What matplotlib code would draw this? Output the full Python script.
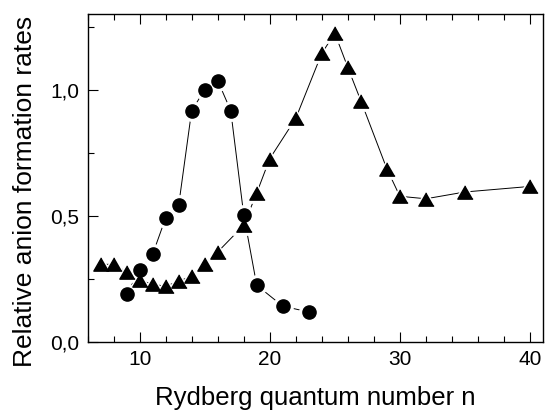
import matplotlib
matplotlib.use("Agg")
import matplotlib.pyplot as plt
from matplotlib.ticker import MultipleLocator, FuncFormatter

plt.rcParams['font.family'] = ['Liberation Sans', 'DejaVu Sans']

# circles
n_circ = [9, 10, 11, 12, 13, 14, 15, 16, 17, 18, 19, 21, 23]
rate_circ = [0.188, 0.284, 0.347, 0.491, 0.541, 0.917, 0.999, 1.036, 0.917, 0.504, 0.224, 0.141, 0.118]

# triangles
n_tri = [7, 8, 9, 10, 11, 12, 13, 14, 15, 16, 18, 19, 20, 22, 24, 25, 26, 27, 29, 30, 32, 35, 40]
rate_tri = [0.307, 0.307, 0.277, 0.244, 0.228, 0.220, 0.240, 0.260, 0.307, 0.356, 0.462, 0.590,
            0.726, 0.886, 1.144, 1.224, 1.088, 0.956, 0.686, 0.577, 0.567, 0.594, 0.616]

tri = [(0, 0.87), (-1, -0.87), (1, -0.87)]

fig = plt.figure(figsize=(5.45, 4.12), dpi=100)
ax = fig.add_axes([0.1607, 0.1706, 0.8356, 0.7954])

# thin connecting lines
ax.plot(n_circ, rate_circ, '-', color='black', lw=0.7, zorder=1)
ax.plot(n_tri, rate_tri, '-', color='black', lw=0.7, zorder=1)
# white halos give the gap between line and symbol
ax.plot(n_circ, rate_circ, 'o', color='white', ms=14, zorder=2)
ax.plot(n_tri, rate_tri, ls='none', marker=tri, color='white', ms=16, zorder=2)
# symbols
ax.plot(n_tri, rate_tri, ls='none', marker=tri, color='black', ms=11, zorder=3)
ax.plot(n_circ, rate_circ, 'o', color='black', ms=9.5, zorder=4)

ax.set_xlim(6, 41)
ax.set_ylim(0, 1.3)
ax.xaxis.set_major_locator(MultipleLocator(10))
ax.xaxis.set_minor_locator(MultipleLocator(2))
ax.yaxis.set_major_locator(MultipleLocator(0.5))
ax.yaxis.set_minor_locator(MultipleLocator(0.25))
ax.yaxis.set_major_formatter(FuncFormatter(lambda v, p: ('%.1f' % v).replace('.', ',')))

ax.tick_params(which='both', direction='in', top=True, right=False, labelsize=15, width=0.8)
ax.tick_params(which='major', length=7, pad=6)
ax.tick_params(which='minor', length=4)
for s in ax.spines.values():
    s.set_linewidth(1.0)

ax.set_xlabel("Rydberg quantum number n", fontsize=18.5)
ax.set_ylabel("Relative anion formation rates", fontsize=19)
ax.xaxis.set_label_coords(0.5, -0.134)
ax.yaxis.set_label_coords(-0.11, 0.46)

fig.savefig("out.png", dpi=100)
